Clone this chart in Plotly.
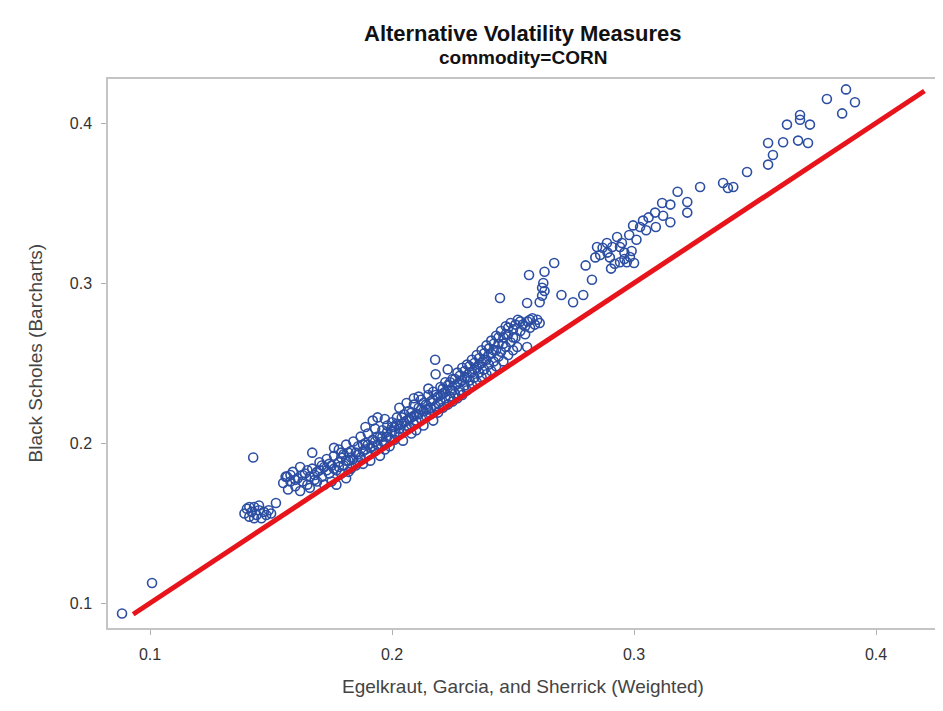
import plotly.graph_objects as go

# Egelkraut, Garcia, and Sherrick (Weighted) vs Black Scholes (Barcharts)
pts = [
    (0.0884,0.0935),(0.1008,0.1125),(0.1426,0.191),
    (0.139,0.156),(0.140,0.159),(0.141,0.154),(0.142,0.157),(0.143,0.160),(0.144,0.155),(0.145,0.158),
    (0.146,0.153),(0.147,0.157),(0.148,0.155),(0.143,0.153),(0.141,0.160),(0.149,0.158),(0.145,0.161),
    (0.152,0.1625),(0.150,0.156),
    (0.155,0.175),(0.156,0.179),(0.157,0.171),(0.158,0.176),(0.159,0.182),(0.160,0.173),(0.161,0.178),
    (0.162,0.185),(0.163,0.176),(0.164,0.181),(0.165,0.174),(0.166,0.179),(0.167,0.184),(0.167,0.194),
    (0.168,0.177),(0.169,0.182),(0.170,0.188),(0.162,0.170),(0.166,0.172),(0.169,0.176),(0.1566,0.179),
    (0.171,0.179),(0.172,0.185),(0.172,0.174),(0.173,0.190),(0.174,0.181),(0.175,0.186),(0.175,0.176),
    (0.176,0.192),(0.177,0.183),(0.177,0.174),(0.178,0.188),(0.178,0.196),(0.179,0.181),(0.180,0.186),
    (0.180,0.193),(0.181,0.178),(0.181,0.199),(0.182,0.189),(0.183,0.184),(0.183,0.195),(0.184,0.190),
    (0.184,0.201),(0.185,0.186),(0.185,0.194),(0.176,0.197),(0.179,0.191),(0.182,0.182),(0.173,0.183),
    (0.186,0.198),(0.187,0.191),(0.187,0.204),(0.188,0.195),(0.188,0.187),(0.189,0.200),(0.190,0.193),
    (0.190,0.206),(0.191,0.197),(0.191,0.189),(0.192,0.202),(0.193,0.195),(0.193,0.209),(0.194,0.199),
    (0.195,0.204),(0.195,0.192),(0.196,0.208),(0.197,0.200),(0.197,0.196),(0.198,0.211),(0.198,0.204),
    (0.199,0.198),(0.200,0.207),(0.200,0.213),(0.189,0.210),(0.192,0.214),(0.194,0.216),
    (0.201,0.202),(0.201,0.210),(0.202,0.216),(0.203,0.206),(0.203,0.222),(0.204,0.212),(0.2045,0.2015),
    (0.205,0.208),(0.205,0.218),(0.206,0.214),(0.207,0.210),(0.207,0.220),(0.208,0.216),(0.209,0.212),
    (0.209,0.224),(0.210,0.218),(0.210,0.208),(0.211,0.222),(0.212,0.215),(0.212,0.227),(0.213,0.220),
    (0.213,0.211),(0.214,0.224),(0.214,0.217),(0.215,0.230),(0.215,0.221),(0.206,0.225),(0.211,0.229),
    (0.208,0.206),
    (0.216,0.218),(0.216,0.226),(0.217,0.232),(0.217,0.214),(0.2178,0.252),(0.218,0.223),(0.219,0.229),
    (0.219,0.219),(0.220,0.235),(0.220,0.226),(0.221,0.222),(0.221,0.231),(0.222,0.228),(0.222,0.238),
    (0.223,0.224),(0.224,0.233),(0.224,0.229),(0.225,0.240),(0.225,0.226),(0.226,0.236),(0.226,0.231),
    (0.227,0.244),(0.227,0.228),(0.228,0.238),(0.228,0.233),(0.229,0.247),(0.229,0.230),(0.230,0.241),
    (0.230,0.236),(0.218,0.243),(0.223,0.246),
    (0.231,0.249),(0.231,0.233),(0.232,0.244),(0.232,0.239),(0.233,0.236),(0.233,0.252),(0.234,0.246),
    (0.234,0.241),(0.235,0.255),(0.235,0.238),(0.236,0.249),(0.236,0.244),(0.237,0.241),(0.237,0.258),
    (0.238,0.252),(0.238,0.246),(0.239,0.243),(0.239,0.261),(0.240,0.255),(0.240,0.249),(0.241,0.245),
    (0.241,0.264),(0.242,0.258),(0.242,0.251),(0.243,0.248),(0.243,0.267),(0.244,0.262),(0.244,0.254),
    (0.245,0.270),(0.245,0.257),(0.2446,0.2906),
    (0.246,0.251),(0.246,0.266),(0.247,0.260),(0.247,0.273),(0.248,0.255),(0.248,0.268),(0.249,0.263),
    (0.249,0.275),(0.250,0.258),(0.250,0.271),(0.251,0.266),(0.252,0.277),(0.2517,0.260),(0.253,0.270),
    (0.254,0.274),(0.255,0.268),(0.2558,0.260),(0.256,0.276),(0.2558,0.2875),(0.2566,0.305),(0.257,0.272),
    (0.258,0.278),(0.259,0.274),(0.260,0.277),(0.261,0.275),(0.262,0.292),(0.262,0.297),(0.2625,0.300),
    (0.263,0.307),(0.261,0.288),(0.263,0.295),(0.267,0.3125),
    (0.270,0.2925),(0.2748,0.288),(0.279,0.2925),(0.2826,0.302),(0.280,0.311),(0.2847,0.3225),(0.286,0.3175),
    (0.2888,0.325),(0.293,0.3288),(0.2942,0.3225),(0.2983,0.3163),(0.2942,0.313),(0.290,0.316),(0.296,0.319),
    (0.292,0.312),(0.297,0.313),(0.299,0.320),(0.300,0.3125),(0.2996,0.336),(0.3025,0.335),(0.3037,0.339),
    (0.301,0.327),(0.298,0.330),(0.295,0.325),(0.291,0.3225),(0.289,0.319),(0.287,0.322),(0.284,0.316),
    (0.296,0.315),(0.2905,0.309),
    (0.3087,0.344),(0.3116,0.350),(0.315,0.349),(0.315,0.338),(0.318,0.357),(0.322,0.3506),(0.322,0.344),
    (0.306,0.341),(0.309,0.335),(0.312,0.342),(0.305,0.333),(0.3273,0.360),
    (0.3368,0.3625),(0.3388,0.3594),(0.341,0.360),(0.3467,0.3694),(0.3554,0.374),(0.3574,0.380),
    (0.3554,0.3875),(0.3616,0.388),(0.3678,0.389),(0.3719,0.3875),(0.3632,0.399),(0.3686,0.402),
    (0.3727,0.399),(0.3686,0.405),(0.3797,0.415),(0.386,0.406),(0.3876,0.421),(0.3913,0.413),
    # denser core of the band
    (0.158,0.180),(0.160,0.177),(0.163,0.180),(0.165,0.183),(0.168,0.180),(0.170,0.183),(0.171,0.186),
    (0.174,0.187),(0.176,0.184),(0.178,0.185),(0.179,0.194),(0.181,0.189),(0.182,0.194),(0.183,0.191),
    (0.186,0.193),(0.186,0.189),(0.188,0.199),(0.189,0.196),(0.190,0.199),(0.192,0.198),(0.193,0.201),
    (0.194,0.204),(0.196,0.201),(0.196,0.204),(0.198,0.207),(0.199,0.203),(0.200,0.210),(0.201,0.206),
    (0.202,0.212),(0.203,0.209),(0.204,0.216),(0.205,0.213),(0.206,0.211),(0.207,0.215),(0.208,0.219),
    (0.209,0.217),(0.210,0.214),(0.211,0.218),(0.212,0.221),(0.213,0.225),(0.214,0.221),(0.216,0.222),
    (0.217,0.227),(0.218,0.230),(0.219,0.225),(0.220,0.230),(0.221,0.234),(0.222,0.232),(0.223,0.236),
    (0.224,0.238),(0.225,0.233),(0.226,0.240),(0.227,0.237),(0.228,0.242),(0.229,0.239),(0.230,0.245),
    (0.231,0.241),(0.232,0.248),(0.233,0.244),(0.234,0.250),(0.235,0.247),(0.236,0.253),(0.237,0.250),
    (0.238,0.256),(0.239,0.252),(0.240,0.259),(0.241,0.256),(0.242,0.262),(0.243,0.258),(0.244,0.266),
    (0.246,0.262),(0.247,0.268),(0.248,0.272),(0.250,0.266),(0.251,0.274),(0.253,0.276),(0.255,0.273),
    (0.257,0.277),(0.197,0.215),(0.215,0.234),(0.209,0.228),
]
egs_weighted = [p[0] for p in pts]
black_scholes = [p[1] for p in pts]

ref_line_x = [0.093, 0.42]
ref_line_y = [0.093, 0.42]

tick_vals = [0.1, 0.2, 0.3, 0.4]
tick_text = ["0.1", "0.2", "0.3", "0.4"]

FONT = "Liberation Sans, Arial, sans-serif"

fig = go.Figure()
fig.add_trace(go.Scatter(
    x=egs_weighted, y=black_scholes, mode="markers",
    marker=dict(symbol="circle-open", size=9, color="#2c4ea3", line=dict(width=1.6, color="#2c4ea3")),
    showlegend=False, hoverinfo="x+y"))
fig.add_trace(go.Scatter(
    x=ref_line_x, y=ref_line_y, mode="lines",
    line=dict(color="#e8141b", width=5), showlegend=False))

axis_common = dict(
    showgrid=False, zeroline=False, showline=True, mirror=True,
    linecolor="#c4c4c4", linewidth=1.5,
    ticks="outside", ticklen=5, tickcolor="#b0b0b0", tickwidth=1,
    tickvals=tick_vals, ticktext=tick_text,
    tickfont=dict(family=FONT, size=16, color="#333333"),
)

fig.update_layout(
    width=943, height=711,
    margin=dict(l=100, r=14, t=71, b=91),
    paper_bgcolor="white", plot_bgcolor="white",
    xaxis=dict(range=[0.0826, 0.4252], ticklabelstandoff=6, **axis_common),
    yaxis=dict(range=[0.0844, 0.4275], ticklabelstandoff=6, **axis_common),
    annotations=[
        dict(text="<b>Alternative Volatility Measures</b>", xref="paper", yref="paper",
             x=0.5, y=1, xanchor="center", yanchor="middle", yshift=46, showarrow=False,
             font=dict(family=FONT, size=22, color="#111111")),
        dict(text="<b>commodity=CORN</b>", xref="paper", yref="paper",
             x=0.5, y=1, xanchor="center", yanchor="middle", yshift=22, showarrow=False,
             font=dict(family=FONT, size=19, color="#111111")),
        dict(text="Egelkraut, Garcia, and Sherrick (Weighted)", xref="paper", yref="paper",
             x=0.5, y=0, xanchor="center", yanchor="middle", yshift=-58, showarrow=False,
             font=dict(family=FONT, size=19, color="#444444")),
        dict(text="Black Scholes (Barcharts)", xref="paper", yref="paper",
             x=0, y=0.5, xanchor="center", yanchor="middle", xshift=-73, textangle=-90,
             showarrow=False, font=dict(family=FONT, size=19, color="#444444")),
    ],
)

fig.write_html("out.html")
